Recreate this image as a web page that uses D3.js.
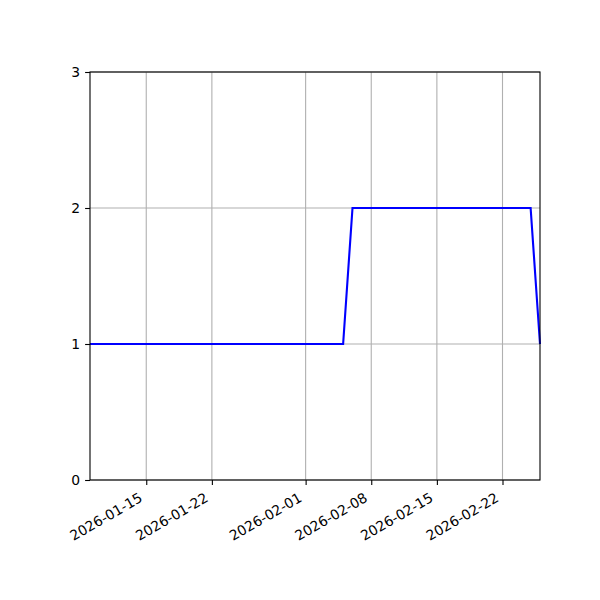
<!DOCTYPE html>
<html>
<head>
    <script src="https://d3js.org/d3.v7.min.js"></script>
    <style>
        body { margin: 0; background: #fff; }
        text { font-family: "DejaVu Sans", sans-serif; font-size: 13.9px; fill: #000; }
    </style>
</head>
<body>
    <svg width="600" height="600"></svg>
    <script>
        // data
        const dates = ["2026-01-09", "2026-02-05", "2026-02-06", "2026-02-25", "2026-02-26"];
        const values = [1, 1, 2, 2, 1];
        const xTickLabels = ["2026-01-15", "2026-01-22", "2026-02-01", "2026-02-08", "2026-02-15", "2026-02-22"];
        const yTicks = [0, 1, 2, 3];

        const parse = d3.timeParse("%Y-%m-%d");
        const data = dates.map((d, i) => ({date: parse(d), value: values[i]}));

        const svg = d3.select("svg"),
              margin = {top: 72, right: 60, bottom: 120, left: 90},
              width = 600 - margin.left - margin.right,
              height = 600 - margin.top - margin.bottom;

        const x = d3.scaleTime()
                    .domain(d3.extent(data, d => d.date))
                    .range([0, width]);
        const y = d3.scaleLinear()
                    .domain([0, 3])
                    .range([height, 0]);

        const g = svg.append("g")
                     .attr("transform", `translate(${margin.left},${margin.top})`);

        const xTicks = xTickLabels.map(parse);

        // grid
        g.append("g").selectAll("line.vx")
         .data(xTicks).enter().append("line")
         .attr("x1", d => x(d)).attr("x2", d => x(d))
         .attr("y1", 0).attr("y2", height)
         .attr("stroke", "#b0b0b0").attr("stroke-width", 1.1);
        g.append("g").selectAll("line.hy")
         .data(yTicks).enter().append("line")
         .attr("x1", 0).attr("x2", width)
         .attr("y1", d => y(d)).attr("y2", d => y(d))
         .attr("stroke", "#b0b0b0").attr("stroke-width", 1.1);

        // line
        g.append("path")
         .datum(data)
         .attr("fill", "none")
         .attr("stroke", "#0000ff")
         .attr("stroke-width", 2.1)
         .attr("d", d3.line().x(d => x(d.date)).y(d => y(d.value)));

        // axes
        const xAxis = g.append("g")
            .attr("transform", `translate(0,${height})`)
            .call(d3.axisBottom(x).tickValues(xTicks).tickFormat(d3.timeFormat("%Y-%m-%d"))
                  .tickSize(4.9).tickSizeOuter(0).tickPadding(3));
        // rotated labels, right end tucked just left of the tick
        xAxis.selectAll("text")
             .style("text-anchor", "end")
             .attr("x", 0).attr("y", 0)
             .attr("dy", "0.78em")
             .attr("transform", "translate(-8.7,11.3) rotate(-30)");

        const yAxis = g.append("g")
            .call(d3.axisLeft(y).tickValues(yTicks).tickFormat(d3.format("d"))
                  .tickSize(4.9).tickSizeOuter(0).tickPadding(4.9));

        svg.selectAll(".domain").remove();
        svg.selectAll(".tick line").attr("stroke", "#000").attr("stroke-width", 1.1);
        svg.selectAll(".tick text").style("font-family", "DejaVu Sans").style("font-size", "13.9px");

        // frame
        g.append("rect")
         .attr("width", width).attr("height", height)
         .attr("fill", "none").attr("stroke", "#000").attr("stroke-width", 1.1);
    </script>
</body>
</html>
